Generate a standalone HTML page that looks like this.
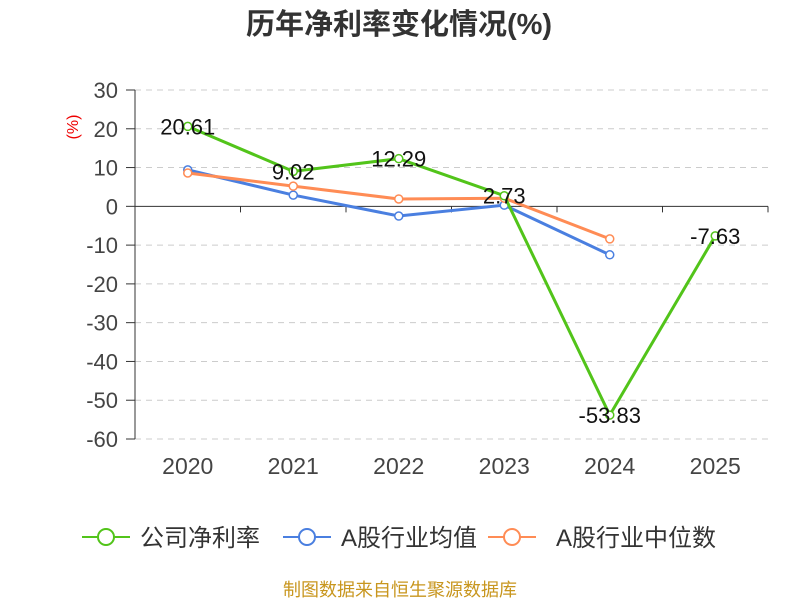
<!DOCTYPE html>
<html><head><meta charset="utf-8"><style>
body{margin:0;background:#fff;}
svg text{font-family:"Liberation Sans","Noto Sans CJK SC",sans-serif;}
</style></head><body>
<svg id="chart" width="800" height="600" xmlns="http://www.w3.org/2000/svg">
<text x="399" y="34" text-anchor="middle" font-size="29" font-weight="bold" fill="#333">历年净利率变化情况(%)</text>
<text transform="translate(78,127) rotate(-90)" text-anchor="middle" font-size="16" fill="#e00">(%)</text>
<g id="grid"></g><g id="series"></g>
<g>
<g><line x1="82" y1="537" x2="130" y2="537" stroke="#52c41a" stroke-width="2"/><circle cx="106" cy="537" r="8" fill="#fff" stroke="#52c41a" stroke-width="2"/><text x="140" y="546" font-size="24" fill="#333">公司净利率</text></g>
<g><line x1="283" y1="537" x2="331" y2="537" stroke="#4a7fe0" stroke-width="2"/><circle cx="307" cy="537" r="8" fill="#fff" stroke="#4a7fe0" stroke-width="2"/><text x="341" y="546" font-size="24" fill="#333">A股行业均值</text></g>
<g><line x1="488" y1="537" x2="536" y2="537" stroke="#ff8c55" stroke-width="2"/><circle cx="512" cy="537" r="8" fill="#fff" stroke="#ff8c55" stroke-width="2"/><text x="556" y="546" font-size="24" fill="#333">A股行业中位数</text></g>
</g>
<text x="400" y="596" text-anchor="middle" font-size="18" fill="#c8961e">制图数据来自恒生聚源数据库</text>
</svg>
<script>
const categories=["2020","2021","2022","2023","2024","2025"];
const companyValues=[20.61,9.02,12.29,2.73,-53.83,-7.63];
const industryAvg=[9.4,2.9,-2.5,0.3,-12.5];
const industryMedian=[8.6,5.2,1.9,2.1,-8.4];
const yTicks=[30,20,10,0,-10,-20,-30,-40,-50,-60];
const NS="http://www.w3.org/2000/svg";
const x0=135,x1=768,yTop=90,yBot=439,yMax=30,yMin=-60;
const band=(x1-x0)/categories.length;
const xs=i=>x0+band*(i+0.5);
const ys=v=>yTop+(yMax-v)/(yMax-yMin)*(yBot-yTop);
function mk(tag,attrs,parent){const e=document.createElementNS(NS,tag);for(const k in attrs)e.setAttribute(k,attrs[k]);parent.appendChild(e);return e;}
const grid=document.getElementById('grid'),ser=document.getElementById('series');
yTicks.forEach(t=>{const y=ys(t);
 if(t!==0){const l=mk('line',{x1:x0,x2:x1,y1:y,y2:y,stroke:'#ccc','stroke-dasharray':'6,5'},grid);
 
 }
 mk('line',{x1:x0-9,x2:x0,y1:y,y2:y,stroke:'#333'},grid);
 const tx=mk('text',{x:x0-17,y:y+8,'text-anchor':'end','font-size':'22',fill:'#444'},grid);tx.textContent=t;
 
 
});
mk('line',{x1:x0,x2:x0,y1:yTop,y2:yBot,stroke:'#333'},grid);
mk('line',{x1:x0,x2:x1,y1:ys(0),y2:ys(0),stroke:'#333'},grid);
for(let i=0;i<=categories.length;i++){mk('line',{x1:x0+band*i,x2:x0+band*i,y1:ys(0),y2:ys(0)+6,stroke:'#333'},grid);}
categories.forEach((c,i)=>{const tx=mk('text',{x:xs(i),y:474,'text-anchor':'middle','font-size':'23',fill:'#444'},grid);tx.textContent=c;
 
 });
function drawSeries(vals,color,name,labels){
 const pts=vals.map((v,i)=>xs(i)+','+ys(v)).join(' ');
 const pl=mk('polyline',{points:pts,fill:'none',stroke:color,'stroke-width':3},ser);
 
 
 vals.forEach((v,i)=>{const c=mk('circle',{cx:xs(i),cy:ys(v),r:4,fill:'#fff',stroke:color,'stroke-width':1.5},ser);
  
  
  if(labels){const t=mk('text',{x:xs(i),y:ys(v)+8,'text-anchor':'middle','font-size':'22',fill:'#111'},ser);t.textContent=v.toFixed(2);
  
  }
 });
}
drawSeries(industryAvg,'#4a7fe0','industry-avg',false);
drawSeries(industryMedian,'#ff8c55','industry-median',false);
drawSeries(companyValues,'#52c41a','company',true);
</script>
</body></html>
